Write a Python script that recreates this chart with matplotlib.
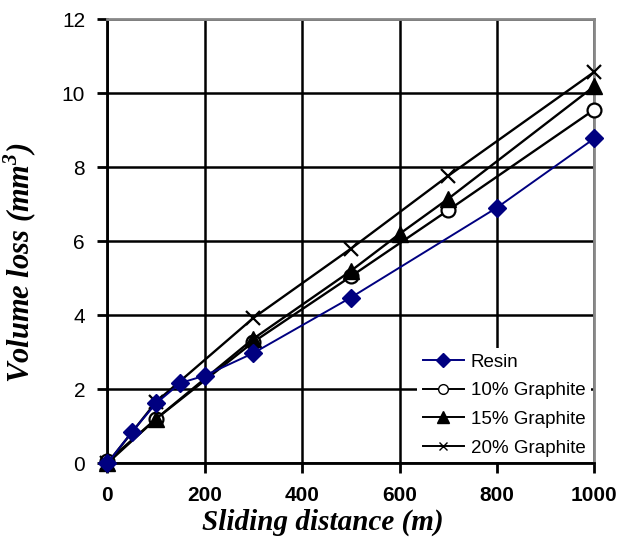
import matplotlib
matplotlib.use("Agg")
import matplotlib.pyplot as plt
from matplotlib.lines import Line2D

plt.rcParams["mathtext.fontset"] = "custom"
plt.rcParams["mathtext.bf"] = "Liberation Serif:bold:italic"
plt.rcParams["mathtext.rm"] = "Liberation Serif:bold:italic"

resin_x = [0, 50, 100, 150, 200, 300, 500, 800, 1000]
resin_y = [0, 0.84, 1.62, 2.17, 2.37, 2.98, 4.48, 6.91, 8.78]

g10_x = [0, 100, 300, 500, 700, 1000]
g10_y = [0.05, 1.2, 3.28, 5.05, 6.84, 9.56]

g15_x = [0, 100, 300, 500, 600, 700, 1000]
g15_y = [0, 1.2, 3.37, 5.2, 6.2, 7.15, 10.19]

g20_x = [0, 100, 300, 500, 700, 1000]
g20_y = [0, 1.66, 3.93, 5.8, 7.77, 10.58]

labels = ["Resin", "10% Graphite", "15% Graphite", "20% Graphite"]
xticks = [0, 200, 400, 600, 800, 1000]
yticks = [0, 2, 4, 6, 8, 10, 12]

fig = plt.figure(figsize=(6.34, 5.57), dpi=100)
ax = fig.add_axes([0.1693, 0.1682, 0.9374 - 0.1693, 0.9653 - 0.1682])

ax.set_xlim(0, 1000)
ax.set_ylim(0, 12)
ax.set_xticks(xticks)
ax.set_yticks(yticks)
ax.grid(True, color="black", linewidth=1.8)
ax.set_axisbelow(True)

navy = "#000080"
ax.plot(resin_x, resin_y, color=navy, lw=1.4, marker="D", ms=9, mfc=navy, mec=navy, clip_on=False, zorder=5)
ax.plot(g10_x, g10_y, color="black", lw=1.7, marker="o", ms=10, mfc="white", mec="black", mew=1.6, clip_on=False, zorder=4)
ax.plot(g15_x, g15_y, color="black", lw=1.7, marker="^", ms=12, mfc="black", mec="black", clip_on=False, zorder=4)
ax.plot(g20_x, g20_y, color="black", lw=1.7, marker="x", ms=10, mec="black", mew=1.6, clip_on=False, zorder=4)

for s in ["top", "right"]:
    ax.spines[s].set_color("#888888")
    ax.spines[s].set_linewidth(2)
for s in ["left", "bottom"]:
    ax.spines[s].set_color("black")
    ax.spines[s].set_linewidth(2)

ax.tick_params(axis="both", direction="out", length=7, width=2, color="black")
ax.tick_params(axis="x", pad=9)
ax.tick_params(axis="y", pad=9)
for lab in ax.get_xticklabels():
    lab.set_fontfamily("Liberation Sans")
    lab.set_fontweight("bold")
    lab.set_fontsize(15)
for lab in ax.get_yticklabels():
    lab.set_fontfamily("Liberation Sans")
    lab.set_fontsize(15)

ax.set_xlabel("Sliding distance (m)", fontfamily="Liberation Serif", fontstyle="italic",
              fontweight="bold", fontsize=21, va="center", ha="center")
ax.set_ylabel(r"Volume loss (mm$^{\mathbf{3}}$)", fontfamily="Liberation Serif", fontstyle="italic",
              fontweight="bold", fontsize=22, va="center", ha="center")
ax.xaxis.set_label_coords(0.443, -0.134)
ax.yaxis.set_label_coords(-0.179, 0.451)

handles = [
    Line2D([], [], color=navy, lw=1.4, marker="D", ms=7, mfc=navy, mec=navy),
    Line2D([], [], color="black", lw=1.4, marker="o", ms=7, mfc="white", mec="black"),
    Line2D([], [], color="black", lw=1.4, marker="^", ms=8, mfc="black", mec="black"),
    Line2D([], [], color="black", lw=1.4, marker="x", ms=6, mec="black"),
]
leg = ax.legend(handles, labels, loc="lower right", bbox_to_anchor=(0.995, 0.0),
                frameon=True, fancybox=False, facecolor="white", edgecolor="none", framealpha=1,
                prop={"family": "Liberation Sans", "size": 13.5}, handlelength=2.2,
                handletextpad=0.35, labelspacing=0.62, borderpad=0.3, borderaxespad=0.05)
leg.set_zorder(10)

fig.savefig("out.png", dpi=100)
